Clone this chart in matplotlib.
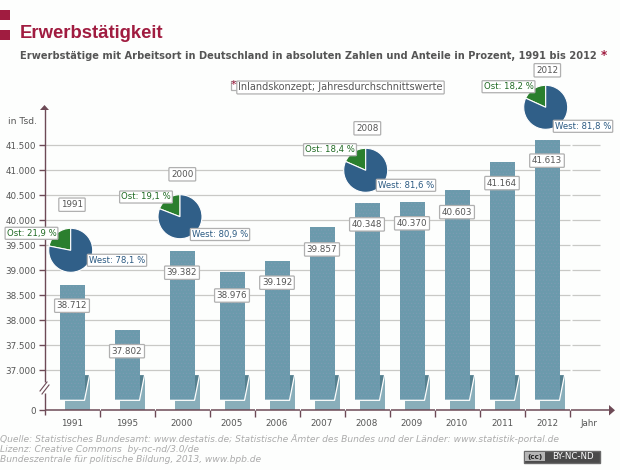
#!/usr/bin/env python3
"""Erwerbstaetige nach Arbeitsort, 1991-2012 (Balken mit Achsenbruch + Kreisdiagramme)."""
import matplotlib
matplotlib.use("Agg")
import matplotlib.pyplot as plt
import numpy as np
from matplotlib.patches import Polygon, Rectangle

years = ["1991", "1995", "2000", "2005", "2006", "2007", "2008", "2009", "2010", "2011", "2012"]
values = [38712, 37802, 39382, 38976, 39192, 39857, 40348, 40370, 40603, 41164, 41613]
value_labels = ["38.712", "37.802", "39.382", "38.976", "39.192", "39.857",
                "40.348", "40.370", "40.603", "41.164", "41.613"]
y_ticks = [0, 37000, 37500, 38000, 38500, 39000, 39500, 40000, 40500, 41000, 41500]
y_tick_labels = ["0", "37.000", "37.500", "38.000", "38.500", "39.000",
                 "39.500", "40.000", "40.500", "41.000", "41.500"]

pie_years = ["1991", "2000", "2008", "2012"]
ost = [21.9, 19.1, 18.4, 18.2]
west = [78.1, 80.9, 81.6, 81.8]
ost_labels = ["Ost: 21,9 %", "Ost: 19,1 %", "Ost: 18,4 %", "Ost: 18,2 %"]
west_labels = ["West: 78,1 %", "West: 80,9 %", "West: 81,6 %", "West: 81,8 %"]

W, H = 620, 470
BG = "#fdfefd"
BAR = "#6b9aac"
BAR_LOW = "#89aeba"
BAR_DARK = "#55808f"
AXIS = "#6d4a56"
GRID = "#c9c9c6"
TEXT = "#555555"
RED = "#a01c40"
BLUE = "#305f88"
GREEN = "#2b7f2e"
FONT = 6.3

# Layout in Pixeln
slot_widths = [55, 55, 55, 45, 45, 45, 45, 45, 45, 45, 45]
label_drop = [21, 21, 21.5, 24, 22, 22, 21.5, 21.5, 22, 21, 21]
pie_centers = [(70.7, 250.3), (180, 216.7), (365.7, 170.3), (545.7, 107.3)]
year_pos = [(72, 204.7), (182.3, 174.3), (367.3, 128.3), (547.3, 70.3)]
ost_pos = [(31.5, 233.3), (146, 197), (330, 149.7), (508.5, 86.7)]
west_pos = [(117, 260.3), (220, 234.5), (406, 185.3), (583, 126.3)]
PIE_R = 22


def to_px(v):
    # unten gestaucht, ab 37.000 linear (25 px je 500)
    v = np.asarray(v, dtype=float)
    return np.where(v >= 37000, 40 + (v - 37000) * 0.05, v * 40 / 37000)


def from_px(p):
    p = np.asarray(p, dtype=float)
    return np.where(p >= 40, 37000 + (p - 40) / 0.05, p * 37000 / 40)


def box(pad=0.25):
    return dict(boxstyle=f"round,pad={pad},rounding_size=0.1", fc="white", ec="#b0b0b0", lw=0.9)


plt.rcParams["hatch.linewidth"] = 0.4

fig = plt.figure(figsize=(W / 100, H / 100), dpi=100, facecolor=BG)

# Hauptachse: x in Pixeln ab y-Achse, y ueber Funktionsskala
ax = fig.add_axes([44.5 / W, (H - 410.3) / H, (615 - 44.5) / W, 300 / H])
ax.set_facecolor("none")
ax.set_xlim(0, 570.5)
ax.set_yscale("function", functions=(to_px, from_px))
ax.set_ylim(0, float(from_px(300)))
for s in ax.spines.values():
    s.set_visible(False)

edges = np.cumsum([0] + slot_widths)
centers = (edges[:-1] + edges[1:]) / 2

ax.set_yticks(y_ticks, y_tick_labels, fontsize=FONT, color=TEXT)
ax.tick_params(axis="y", length=4, width=1, color=AXIS, pad=2)
ax.set_xticks(edges[1:], [])
ax.set_xticks(centers, years, minor=True, fontsize=FONT, color=TEXT)
ax.tick_params(axis="x", which="major", length=5, width=1, color=AXIS, direction="out")
ax.tick_params(axis="x", which="minor", length=0, pad=6.5)

for t in y_ticks[1:]:
    ax.plot([0, 525.5], [t, t], color=GRID, lw=0.9, zorder=1, solid_capstyle="butt")
    ax.plot([527.5, 555.5], [t, t], color=GRID, lw=0.9, zorder=1, solid_capstyle="butt")

BREAK_TOP = float(from_px(35))
BAR_FOOT = float(from_px(10))
for c, v, lab, drop in zip(centers, values, value_labels, label_drop):
    # unterer Stummel, leicht versetzt
    ax.bar(c + 5, BREAK_TOP, width=25, color=BAR_LOW, zorder=2)
    ax.add_patch(Polygon([(c + 12.5, BREAK_TOP), (c + 17.5, BREAK_TOP), (c + 12.5, BAR_FOOT)],
                         color=BAR_DARK, lw=0, zorder=3))
    ax.bar(c, v - BAR_FOOT, bottom=BAR_FOOT, width=25, facecolor=BAR, edgecolor="#7f9bb3",
           hatch=".....", lw=0, zorder=3)
    ax.plot([c - 12.5, c + 12.5, c + 17.5], [BAR_FOOT, BAR_FOOT, BREAK_TOP],
            color="white", lw=0.9, zorder=4)
    ax.annotate(lab, (c, v), xytext=(0, -drop * 0.72), textcoords="offset points",
                ha="center", va="center", fontsize=FONT, color=TEXT, bbox=box(), zorder=5)

# Kreise, je eine eigene kleine Achse
for (cx, cy), o, we in zip(pie_centers, ost, west):
    d = PIE_R * 1.05
    pa = fig.add_axes([(cx - d) / W, (H - cy - d) / H, 2 * d / W, 2 * d / H], zorder=2)
    pa.pie([o, we], colors=[GREEN, BLUE], startangle=90, counterclock=True, radius=1,
           wedgeprops=dict(edgecolor="white", lw=0.8))
    pa.set_xlim(-1.05, 1.05)
    pa.set_ylim(-1.05, 1.05)
    pa.axis("off")

# Overlay in Pixelkoordinaten fuer Achsen, Texte, Kaesten
ov = fig.add_axes([0, 0, 1, 1], zorder=3)
ov.set_xlim(0, W)
ov.set_ylim(H, 0)
ov.axis("off")
ov.patch.set_alpha(0)

# y-Achse mit Bruch und Pfeil
ov.plot([44.5, 44.5], [108, 381.5], color=AXIS, lw=1, solid_capstyle="butt")
ov.plot([44.5, 44.5], [393, 410.3], color=AXIS, lw=1, solid_capstyle="butt")
ov.add_patch(Polygon([(44.5, 105), (40, 110), (49, 110)], color=AXIS, lw=0))
ov.plot([40, 47], [391, 382], color=AXIS, lw=0.8)
ov.plot([42, 49], [394, 385], color=AXIS, lw=0.8)

# x-Achse: Stuecke mit kleinen Luecken
for a, b in zip(edges[:-1], edges[1:]):
    ov.plot([44.5 + a + (1 if a else 0), 44.5 + b], [410.3, 410.3], color=AXIS, lw=1.1,
            solid_capstyle="butt")
ov.plot([571, 610], [410.3, 410.3], color=AXIS, lw=1.1, solid_capstyle="butt")
ov.plot([44.5, 44.5], [410, 415], color=AXIS, lw=1, solid_capstyle="butt")
ov.add_patch(Polygon([(615, 410.3), (609, 405), (609, 415.5)], color=AXIS, lw=0))
ov.text(589, 423.3, "Jahr", ha="center", va="center", fontsize=FONT, color=TEXT)
ov.text(37, 121, "in Tsd.", ha="right", va="center", fontsize=6.6, color=TEXT)

# Kopf
ov.add_patch(Rectangle((0, 10), 10, 10, color=RED, lw=0))
ov.add_patch(Rectangle((0, 30), 10, 10, color=RED, lw=0))
ov.text(20, 34, "Erwerbstätigkeit", ha="left", va="center", fontsize=13.3, color=RED,
        fontweight="bold", family="Liberation Sans")
ov.text(20, 56, "Erwerbstätige mit Arbeitsort in Deutschland in absoluten Zahlen und Anteile in Prozent, 1991 bis 2012",
        ha="left", va="center", fontsize=7.12, color=TEXT, fontweight="bold")
ov.text(601, 55, "*", ha="left", va="center", fontsize=8.5, color=RED, fontweight="bold")

# Fussnote
ov.add_patch(Rectangle((230.5, 80.5), 8, 9, fc="white", ec="#b0b0b0", lw=0.9))
ov.text(340.5, 87.5, "Inlandskonzept; Jahresdurchschnittswerte", ha="center", va="center",
        fontsize=7, color=TEXT, bbox=box(0.15))
ov.text(233.5, 85, "*", ha="center", va="center", fontsize=8, color=RED)

for y, (px, py) in zip(pie_years, year_pos):
    ov.text(px, py, y, ha="center", va="center", fontsize=FONT, color=TEXT, bbox=box())
for s, (px, py) in zip(ost_labels, ost_pos):
    ov.text(px, py, s, ha="center", va="center", fontsize=6.1, color="#1f6a22", bbox=box(0.18))
for s, (px, py) in zip(west_labels, west_pos):
    ov.text(px, py, s, ha="center", va="center", fontsize=6.1, color="#2b5a82", bbox=box(0.18))

# Quelle
src = ["Quelle: Statistisches Bundesamt: www.destatis.de; Statistische Ämter des Bundes und der Länder: www.statistik-portal.de",
       "Lizenz: Creative Commons  by-nc-nd/3.0/de",
       "Bundeszentrale für politische Bildung, 2013, www.bpb.de"]
for line, yy in zip(src, [439.5, 449.5, 459.5]):
    ov.text(0, yy, line, ha="left", va="center", fontsize=6.6, color="#ababab", style="italic")

# CC-Plakette
ov.add_patch(Rectangle((523.5, 450.5), 76, 12, fc="#4a4a4a", ec="#6a6a6a", lw=1))
ov.add_patch(Rectangle((525, 452), 20, 9, fc="#b5b5b5", lw=0))
ov.text(534.5, 456.5, "(cc)", ha="center", va="center", fontsize=5.2, color="#222222", fontweight="bold")
ov.text(572.5, 456.5, "BY-NC-ND", ha="center", va="center", fontsize=6.2, color="white")

fig.savefig("out.png", dpi=100, facecolor=BG)
